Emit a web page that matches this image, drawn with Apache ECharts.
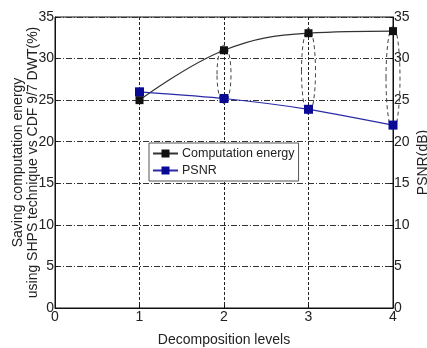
<!DOCTYPE html>
<html>
<head>
<meta charset="utf-8">
<script src="https://cdn.jsdelivr.net/npm/echarts@6/dist/echarts.min.js"></script>
<style>
  html, body { margin: 0; padding: 0; background: #fff; }
  #chart { width: 427px; height: 348px; }
</style>
</head>
<body>
<div id="chart"></div>
<script>
// data
var levels = [1, 2, 3, 4];
var energy = [25.0, 31.0, 33.05, 33.3];   // saving computation energy (%)
var psnr = [26.0, 25.2, 23.9, 22.0];      // PSNR (dB)
var ringLevels = [2, 3, 4];               // dashed rings joining the two values
var yTicks = [0, 5, 10, 15, 20, 25, 30, 35];

function pairs(xs, ys) {
    return xs.map(function (x, i) { return [x, ys[i]]; });
}

var ringData = ringLevels.map(function (lv) {
    var i = levels.indexOf(lv);
    return [lv, energy[i], psnr[i]];
});

var font = 'Liberation Sans, Arial, sans-serif';
var txt = '#222';

var chart = echarts.init(document.getElementById('chart'));

var yAxisBase = {
    type: 'value',
    min: yTicks[0],
    max: yTicks[yTicks.length - 1],
    interval: 5,
    nameLocation: 'middle',
    nameRotate: 90,
    nameMoveOverlap: false,
    nameTextStyle: { fontFamily: font, fontSize: 14, color: txt, lineHeight: 15 },
    axisLine: { show: true, lineStyle: { color: '#111', width: 1 } },
    axisTick: { show: true, length: 3, inside: true, lineStyle: { color: '#111' } },
    axisLabel: { fontFamily: font, fontSize: 14, color: txt, margin: 1 }
};

var option = {
    animation: false,
    backgroundColor: '#fff',
    grid: {
        left: 55, right: 34, top: 17, bottom: 40,
        outerBoundsMode: 'none',
        containLabel: false,
        show: true, borderColor: '#111', borderWidth: 1
    },
    legend: {
        left: 149, top: 143, width: 140,
        orient: 'vertical',
        backgroundColor: '#fff',
        borderColor: '#555',
        borderWidth: 1,
        borderRadius: 0,
        padding: [4, 4, 4, 3],
        itemGap: 4,
        itemWidth: 25,
        itemHeight: 10,
        textStyle: { fontFamily: font, fontSize: 12.5, color: txt, padding: [0, 0, 0, -1] },
        data: ['Computation energy', 'PSNR']
    },
    xAxis: {
        type: 'value',
        min: 0, max: 4, interval: 1,
        name: 'Decomposition levels',
        nameLocation: 'middle',
        nameGap: 25,
        nameMoveOverlap: false,
        nameTextStyle: { fontFamily: font, fontSize: 14, color: txt },
        axisLine: { lineStyle: { color: '#111' } },
        axisTick: { show: true, inside: true, length: 3, lineStyle: { color: '#111' } },
        axisLabel: { fontFamily: font, fontSize: 14, color: txt, margin: 2 },
        splitLine: { show: true, lineStyle: { color: '#222', type: [3, 2], width: 1 } }
    },
    yAxis: [
        Object.assign({}, yAxisBase, {
            position: 'left',
            name: 'Saving computation energy\nusing SHPS technique vs CDF 9/7 DWT(%)',
            nameGap: 14,
            splitLine: { show: true, lineStyle: { color: '#333', type: [6, 2, 1, 2], width: 1 } }
        }),
        Object.assign({}, yAxisBase, {
            position: 'right',
            name: 'PSNR(dB)',
            nameGap: 23,
            splitLine: { show: false }
        })
    ],
    series: [
        {
            name: 'Computation energy',
            type: 'line',
            yAxisIndex: 0,
            smooth: 0.4,
            data: pairs(levels, energy),
            symbol: 'rect',
            symbolSize: 8,
            itemStyle: { color: '#111' },
            lineStyle: { color: '#333', width: 1.2 },
            z: 4
        },
        {
            name: 'PSNR',
            type: 'line',
            yAxisIndex: 1,
            smooth: 0.2,
            data: pairs(levels, psnr),
            symbol: 'rect',
            symbolSize: 9,
            itemStyle: { color: '#0a0a96' },
            lineStyle: { color: '#2a2aa8', width: 1.2 },
            z: 4
        },
        {
            type: 'custom',
            yAxisIndex: 0,
            silent: true,
            z: 3,
            data: ringData,
            renderItem: function (params, api) {
                var top = api.coord([api.value(0), api.value(1)]);
                var bot = api.coord([api.value(0), api.value(2)]);
                var pad = 5;
                return {
                    type: 'ellipse',
                    shape: {
                        cx: top[0],
                        cy: (top[1] + bot[1]) / 2,
                        rx: 7,
                        ry: (bot[1] - top[1]) / 2 + pad
                    },
                    style: { fill: 'none', stroke: '#444', lineWidth: 1, lineDash: [4, 3] }
                };
            }
        }
    ]
};

chart.setOption(option);
</script>
</body>
</html>
